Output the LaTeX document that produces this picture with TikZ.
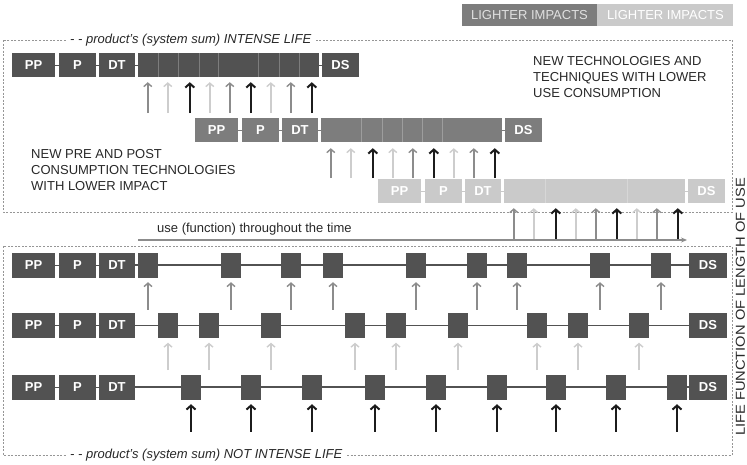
\documentclass[tikz,border=0pt]{standalone}
\usepackage{fontspec}
\setmainfont{Liberation Sans}
\usetikzlibrary{arrows.meta,positioning,calc}
\definecolor{cdark}{RGB}{82,82,82}
\definecolor{cmid}{RGB}{125,125,125}
\definecolor{clight}{RGB}{202,202,202}
\definecolor{cblack}{RGB}{28,28,28}
\definecolor{cgrey}{RGB}{140,140,140}
\definecolor{cpale}{RGB}{205,205,205}
\definecolor{cframe}{RGB}{150,150,150}
\definecolor{ctext}{RGB}{40,40,40}

\begin{document}
\begin{tikzpicture}[x=1pt,y=-1pt,font=\fontsize{13}{16}\selectfont,text=ctext,
  stage/.style={inner sep=0,minimum height=24pt,text=white,font=\fontsize{13}{16}\selectfont\bfseries},
  slot/.style={fill=cdark,inner sep=0,minimum width=20pt,minimum height=25pt},
  link/.style={line width=0.8pt},
  divider/.style={white,opacity=0.25,line width=0.6pt},
  track/.style={cdark,line width=1.6pt},
  frame/.style={cframe,line width=0.8pt,dash pattern=on 2pt off 1.5pt},
  flabel/.style={fill=white,inner xsep=4pt,inner ysep=1pt,anchor=west,font=\fontsize{13}{16}\selectfont\itshape},
  legend/.style={inner sep=0,minimum width=135pt,minimum height=22pt},
  note/.style={align=left,inner sep=0,anchor=base west},
  mid/.style={-{Straight Barb[length=3.5pt,width=8pt]},cgrey,line width=1.4pt},
  pale/.style={-{Straight Barb[length=3.5pt,width=8pt]},cpale,line width=1.4pt},
  heavy/.style={-{Straight Barb[length=4pt,width=9pt]},cblack,line width=2pt},
  timeline/.style={-{Stealth[length=6pt,width=5pt]},cgrey,line width=1.4pt}]
  \useasboundingbox (0,0) rectangle (747,464);

  % legend
  \node[legend,fill=cmid,text=black!12] (leg-dark) at (529.5,15) {LIGHTER IMPACTS};
  \node[legend,fill=clight,text=white,right=0pt of leg-dark,minimum width=136pt] (leg-light) {LIGHTER IMPACTS};

  % frames
  \draw[frame] (3,40) rectangle (732,212);
  \draw[frame] (3,246) rectangle (732,455);
  \node[flabel] (top-label) at (66,40) {- - product’s (system sum) INTENSE LIFE};
  \node[flabel] (bottom-label) at (66,455) {- - product’s (system sum) NOT INTENSE LIFE};
  \node[rotate=90,inner sep=0] (side-label) at (740.5,307) {\scalebox{1.13}[1]{LIFE FUNCTION OF LENGTH OF USE}};

  % intense life: three shifted generations
  \foreach \r/\yc/\col/\gap/\divs in {1/65/cdark/5/{20,40,61,80,120,141,161},
                                      2/130/cmid/6/{40,61,81,101,121},
                                      3/191/clight/5/{41,123}} {
    \pgfmathsetmacro\dx{183*(\r-1)}
    \node[stage,fill=\col,minimum width=43pt] (t\r-pp) at (33.5+\dx,\yc) {PP};
    \node[stage,fill=\col,minimum width=37pt] (t\r-p) at (77.5+\dx,\yc) {P};
    \node[stage,fill=\col,minimum width=36pt] (t\r-dt) at (117+\dx,\yc) {DT};
    \node[stage,fill=\col,minimum width=181pt] (t\r-use) at (228.5+\dx,\yc) {};
    \node[stage,fill=\col,minimum width=37pt] (t\r-ds) at (340.5+\dx,\yc) {DS};
    \draw[link,\col] (t\r-pp) -- (t\r-p);
    \draw[link,\col] (t\r-p) -- (t\r-dt);
    \draw[link,\col] (t\r-dt) -- (t\r-use);
    \draw[link,\col] (t\r-use) -- (t\r-ds);
    \foreach \d in \divs
      \draw[divider] ([xshift=\d pt]t\r-use.north west) -- ([xshift=\d pt]t\r-use.south west);
    \foreach \ax/\sty [count=\i] in {10/mid,30/pale,52/heavy,72/pale,92/mid,113/heavy,133/pale,153/mid,174/heavy} {
      \coordinate (t\r-a\i) at ($(t\r-use.south west)+(\ax,36)$);
      \draw[\sty,shorten >=\gap pt] (t\r-a\i) -- (t\r-a\i |- t\r-use.south);
    }
  }

  \node[note] (note-use) at (533,97) {NEW TECHNOLOGIES AND\\TECHNIQUES WITH LOWER\\USE CONSUMPTION};
  \node[note] (note-pre) at (31,190) {NEW PRE AND POST\\CONSUMPTION TECHNOLOGIES\\WITH LOWER IMPACT};

  % use throughout the time
  \coordinate (tl-start) at (138,240);
  \coordinate (tl-end) at (687,240);
  \draw[timeline] (tl-start) -- (tl-end);
  \node[inner sep=0,anchor=base west] (tl-label) at (157,232.5) {use (function) throughout the time};

  % not intense life: spread uses
  \foreach \row/\yc/\sty/\xs in {a/265/mid/{148,231,291,333,416,477,517,600,661},
                                 b/325.5/pale/{168,209,271,355,396,458,537,578,639},
                                 c/387/heavy/{191,251,312,375,436,497,556,616,677}} {
    \node[stage,fill=cdark,minimum height=25pt,minimum width=43pt] (\row-pp) at (33.5,\yc) {PP};
    \node[stage,fill=cdark,minimum height=25pt,minimum width=37pt] (\row-p) at (77.5,\yc) {P};
    \node[stage,fill=cdark,minimum height=25pt,minimum width=36pt] (\row-dt) at (117,\yc) {DT};
    \node[stage,fill=cdark,minimum height=25pt,minimum width=38pt] (\row-ds) at (708,\yc) {DS};
    \draw[link,cdark] (\row-pp) -- (\row-p);
    \draw[link,cdark] (\row-p) -- (\row-dt);
    \foreach \x [count=\i] in \xs {
      \node[slot] (\row-\i) at (\x,\yc) {};
      \coordinate (\row-a\i) at ($(\row-\i.south)+(0,32)$);
      \draw[\sty,shorten >=4.5pt] (\row-a\i) -- (\row-\i.south);
    }
    \draw[track] (\row-dt) foreach \i in {1,...,9} {-- (\row-\i)} -- (\row-ds);
  }
\end{tikzpicture}
\end{document}
